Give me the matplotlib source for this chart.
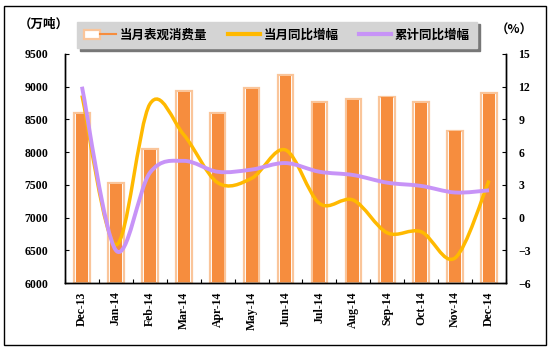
import matplotlib
matplotlib.use('Agg')
import matplotlib.pyplot as plt
import numpy as np
from matplotlib.path import Path
from matplotlib.patches import PathPatch, Patch, Rectangle
from matplotlib.lines import Line2D
from matplotlib.legend_handler import HandlerTuple

plt.rcParams['font.family'] = ['Noto Sans CJK SC', 'DejaVu Sans']

months = ['Dec-13', 'Jan-14', 'Feb-14', 'Mar-14', 'Apr-14', 'May-14', 'Jun-14',
          'Jul-14', 'Aug-14', 'Sep-14', 'Oct-14', 'Nov-14', 'Dec-14']
consumption = [8600, 7530, 8050, 8930, 8600, 8980, 9180, 8770, 8810, 8850, 8760, 8330, 8900]
yoy_month = [11.2, -2.5, 10.4, 7.6, 3.2, 3.6, 6.2, 1.3, 1.6, -1.4, -1.3, -3.7, 3.4]
yoy_cum = [12.0, -3.0, 4.1, 5.2, 4.2, 4.4, 5.0, 4.2, 3.9, 3.2, 2.9, 2.3, 2.5]

orange = '#F68D3E'
peach = '#FAC59A'
yellow = '#FFB900'
purple = '#C793F7'
tickfont = dict(family='Liberation Serif', weight='bold', size=8.5)


def smooth_path(x, y):
    # Excel-style smoothed line as cubic bezier segments
    pts = np.column_stack([x, y]).astype(float)
    n = len(pts)
    verts = [pts[0]]
    codes = [Path.MOVETO]
    for i in range(n - 1):
        p0 = pts[i - 1] if i > 0 else pts[i]
        p1 = pts[i]
        p2 = pts[i + 1]
        p3 = pts[i + 2] if i + 2 < n else pts[i + 1]
        c1 = p1 + (p2 - p0) / 6.0
        c2 = p2 - (p3 - p1) / 6.0
        verts += [c1, c2, p2]
        codes += [Path.CURVE4] * 3
    return Path(verts, codes)


fig = plt.figure(figsize=(5.52, 3.52), dpi=100)
ax = fig.add_axes([65 / 552, 1 - 283 / 352, 441 / 552, 229 / 352])
ax2 = ax.twinx()

x = np.arange(len(months))
ax.bar(x, np.array(consumption) - 6000, bottom=6000, width=0.46,
       color='white', edgecolor=peach, linewidth=1.6, zorder=2)
ax.bar(x, np.array(consumption) - 6000 - 25, bottom=6000 + 12, width=0.35,
       color=orange, linewidth=0, zorder=3)

ax.set_xlim(-0.5, len(months) - 0.5)
ax.set_ylim(6000, 9500)
ax.set_yticks(np.arange(6000, 9501, 500))
ax.set_xticks(np.arange(-0.5, len(months), 1.0), minor=False)
ax.set_xticklabels([])
ax.set_xticks(x, minor=True)
ax.set_xticklabels(months, minor=True, rotation=90, fontdict=tickfont)
ax.tick_params(axis='x', which='minor', length=0, pad=6)
ax.tick_params(axis='x', which='major', direction='in', length=3, width=0.8)
ax.tick_params(axis='y', direction='in', length=3, width=0.8, pad=12)
for lab in ax.get_yticklabels():
    lab.set_fontproperties(tickfont)
    lab.set_family('Liberation Serif')

ax2.set_ylim(-6, 15)
ax2.set_yticks(np.arange(-6, 16, 3))
ax2.set_yticklabels([str(v).replace('-', '\u2212') for v in range(-6, 16, 3)])
ax2.tick_params(axis='y', direction='in', length=3, width=0.8, pad=9)
for lab in ax2.get_yticklabels():
    lab.set_fontproperties(tickfont)
    lab.set_family('Liberation Serif')

ax2.add_patch(PathPatch(smooth_path(x, yoy_month), facecolor='none', edgecolor=yellow,
                        linewidth=2.5, capstyle='butt', zorder=4))
ax2.add_patch(PathPatch(smooth_path(x, yoy_cum), facecolor='none', edgecolor=purple,
                        linewidth=2.8, capstyle='butt', zorder=5))

for a in (ax, ax2):
    a.spines['top'].set_visible(False)
    for s in ('left', 'right', 'bottom'):
        a.spines[s].set_linewidth(1.0)
        a.spines[s].set_color('black')

fig.text(44 / 552, 1 - 24 / 352, '（万吨）', ha='center', va='center', fontsize=9, fontweight='bold')
fig.text(514 / 552, 1 - 30 / 352, '（%）', ha='center', va='center', fontsize=9, fontweight='bold')

h_bar = (Patch(facecolor='white', edgecolor=peach, linewidth=1.6),
         Line2D([], [], color=orange, linewidth=1.5))
h_yoy = Line2D([], [], color=yellow, linewidth=3)
h_cum = Line2D([], [], color=purple, linewidth=3)
leg = fig.legend([h_bar, h_yoy, h_cum], ['当月表观消费量', '当月同比增幅', '累计同比增幅'],
                 handler_map={tuple: HandlerTuple(ndivide=None, pad=0)},
                 loc='center', bbox_to_anchor=(277 / 552, 1 - 35 / 352), ncol=3,
                 frameon=True, fancybox=False, shadow={'color': '#777777', 'alpha': 1},
                 facecolor='#D4D4D4', edgecolor='#D4D4D4', framealpha=1,
                 prop=dict(family=['Noto Sans CJK SC'], weight='bold', size=9),
                 handlelength=2.6, handletextpad=0.3, columnspacing=1.6,
                 borderpad=0.55, borderaxespad=0)

fig.patches.append(Rectangle((4 / 552, 1 - 345 / 352), 542 / 552, 339 / 352,
                             transform=fig.transFigure, fill=False,
                             edgecolor='black', linewidth=1.0))

fig.savefig('out.png', dpi=100)
